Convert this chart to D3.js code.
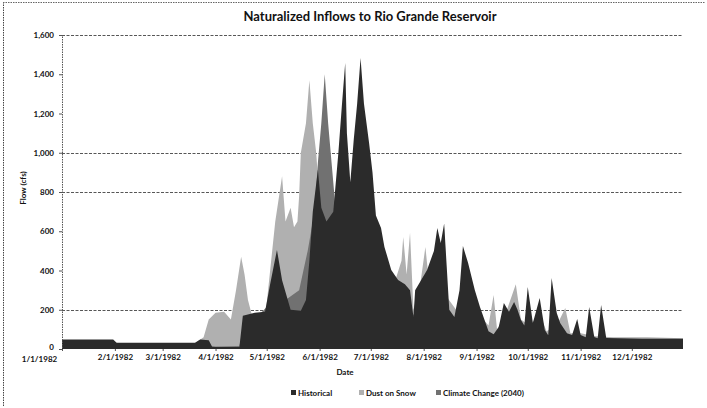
<!DOCTYPE html>
<html>
<head>
<meta charset="utf-8">
<script src="https://cdn.jsdelivr.net/npm/d3@7"></script>
<style>
  html, body { margin: 0; padding: 0; background: #fff; }
  svg { display: block; }
  text { font-family: Lato, "Open Sans", sans-serif; fill: #111; }
</style>
</head>
<body>
<svg id="chart" width="707" height="408"></svg>
<script>
// ---------- DATA ----------
const title = "Naturalized Inflows to Rio Grande Reservoir";
const seriesNames = ["Historical", "Dust on Snow", "Climate Change (2040)"];

const historicalDates = ["1982-01-01","1982-01-31","1982-02-02","1982-03-20","1982-03-23","1982-03-28","1982-03-30","1982-04-15","1982-04-17","1982-04-24","1982-04-30","1982-05-03","1982-05-07","1982-05-10","1982-05-15","1982-05-21","1982-05-24","1982-05-26","1982-05-28","1982-05-31","1982-06-02","1982-06-05","1982-06-09","1982-06-12","1982-06-14","1982-06-16","1982-06-17","1982-06-19","1982-06-21","1982-06-23","1982-06-25","1982-06-27","1982-06-30","1982-07-02","1982-07-04","1982-07-07","1982-07-09","1982-07-13","1982-07-17","1982-07-21","1982-07-24","1982-07-26","1982-07-27","1982-08-03","1982-08-07","1982-08-09","1982-08-11","1982-08-13","1982-08-16","1982-08-19","1982-08-22","1982-08-24","1982-08-27","1982-08-31","1982-09-03","1982-09-08","1982-09-11","1982-09-14","1982-09-17","1982-09-20","1982-09-23","1982-09-25","1982-09-27","1982-09-29","1982-10-01","1982-10-04","1982-10-08","1982-10-11","1982-10-13","1982-10-15","1982-10-18","1982-10-20","1982-10-24","1982-10-27","1982-10-30","1982-11-01","1982-11-04","1982-11-06","1982-11-09","1982-11-11","1982-11-13","1982-11-16","1982-12-07","1982-12-31"];
const historicalValues = [48,48,32,32,48,45,12,10,170,185,190,330,505,350,200,195,250,450,700,913,720,650,700,1000,1235,1457,1100,850,1066,1250,1483,1250,1050,900,680,617,520,403,352,330,300,163,300,403,500,617,540,640,200,163,300,525,439,300,214,90,75,112,235,190,240,200,148,120,316,133,260,97,70,362,184,133,80,71,153,71,60,214,61,55,224,56,52,52];

const dustDates = ["1982-01-01","1982-01-31","1982-02-02","1982-03-20","1982-03-25","1982-03-28","1982-04-01","1982-04-06","1982-04-10","1982-04-13","1982-04-16","1982-04-18","1982-04-20","1982-04-23","1982-04-30","1982-05-03","1982-05-06","1982-05-10","1982-05-12","1982-05-15","1982-05-17","1982-05-19","1982-05-20","1982-05-21","1982-05-24","1982-05-26","1982-05-28","1982-05-30","1982-06-01","1982-06-03","1982-06-08","1982-06-15","1982-06-25","1982-07-02","1982-07-10","1982-07-15","1982-07-19","1982-07-20","1982-07-22","1982-07-24","1982-07-26","1982-07-30","1982-08-02","1982-08-04","1982-08-10","1982-08-13","1982-08-15","1982-08-20","1982-08-25","1982-08-30","1982-09-05","1982-09-08","1982-09-11","1982-09-13","1982-09-18","1982-09-24","1982-09-27","1982-10-02","1982-10-08","1982-10-12","1982-10-18","1982-10-23","1982-10-26","1982-11-01","1982-11-10","1982-11-20","1982-12-10","1982-12-31"];
const dustValues = [45,45,30,30,60,150,185,190,150,300,470,380,250,150,150,400,650,880,650,720,620,650,780,1000,1150,1370,1150,1000,750,700,600,650,700,560,420,340,450,571,380,592,200,330,520,350,450,622,260,200,350,250,150,120,275,100,180,330,150,120,180,90,120,209,80,80,65,60,60,55];

const climateDates = ["1982-01-01","1982-01-31","1982-02-02","1982-03-20","1982-04-01","1982-04-15","1982-04-17","1982-04-25","1982-05-05","1982-05-12","1982-05-20","1982-05-25","1982-05-29","1982-05-31","1982-06-02","1982-06-04","1982-06-06","1982-06-08","1982-06-10","1982-06-14","1982-06-20","1982-06-30","1982-07-10","1982-07-20","1982-08-01","1982-08-15","1982-09-01","1982-09-08","1982-09-15","1982-10-01","1982-10-15","1982-11-01","1982-11-15","1982-12-31"];
const climateValues = [40,40,28,28,10,15,100,160,250,250,300,500,700,950,1150,1400,1150,950,750,650,600,500,350,200,150,130,100,70,65,60,55,55,50,50];

const yTickValues = [0,200,400,600,800,1000,1200,1400,1600];
const gridValues = [200,800,1000,1600];
const xTickDates = ["1982-01-01","1982-02-01","1982-03-01","1982-04-01","1982-05-01","1982-06-01","1982-07-01","1982-08-01","1982-09-01","1982-10-01","1982-11-01","1982-12-01"];
const xTickLabels = ["1/1/1982","2/1/1982","3/1/1982","4/1/1982","5/1/1982","6/1/1982","7/1/1982","8/1/1982","9/1/1982","10/1/1982","11/1/1982","12/1/1982"];

// ---------- CHART ----------
const parse = d3.timeParse("%Y-%m-%d");
const svg = d3.select("#chart");

const plotLeft = 62, plotRight = 683, plotTop = 35, plotBottom = 349;
const x = d3.scaleTime()
  .domain([parse("1982-01-01"), parse("1982-12-31")])
  .range([plotLeft, plotRight]);
const y = d3.scaleLinear().domain([0, 1600]).range([plotBottom, plotTop]);

const colors = { "Historical": "#2b2b2b", "Dust on Snow": "#b0b0b0", "Climate Change (2040)": "#717171" };

// outer dotted border (left + top visible)
svg.append("line").attr("x1", 3.5).attr("x2", 3.5).attr("y1", 2).attr("y2", 406)
  .attr("stroke", "#444").attr("stroke-dasharray", "1.5,1");
svg.append("line").attr("x1", 3).attr("x2", 705).attr("y1", 2.5).attr("y2", 2.5)
  .attr("stroke", "#666").attr("stroke-dasharray", "1.5,1");

// title
svg.append("text").attr("x", 370).attr("y", 21).attr("text-anchor", "middle")
  .style("font-size", "13px").style("font-weight", "bold").text(title);

// gridlines
svg.append("g").selectAll("line").data(gridValues).join("line")
  .attr("x1", plotLeft).attr("x2", plotRight)
  .attr("y1", d => Math.round(y(d)) + 0.5).attr("y2", d => Math.round(y(d)) + 0.5)
  .attr("stroke", "#444").attr("stroke-width", 0.9).attr("stroke-dasharray", "3,1.5");

// areas
const area = d3.area().x(d => x(d.date)).y0(y(0)).y1(d => y(d.value));
function build(dates, values) { return dates.map((s, i) => ({ date: parse(s), value: values[i] })); }
const layers = [
  { name: "Dust on Snow", data: build(dustDates, dustValues) },
  { name: "Climate Change (2040)", data: build(climateDates, climateValues) },
  { name: "Historical", data: build(historicalDates, historicalValues) }
];
svg.append("g").selectAll("path").data(layers).join("path")
  .attr("d", d => area(d.data))
  .attr("fill", d => colors[d.name]);

// y axis
const yAxis = d3.axisLeft(y).tickValues(yTickValues).tickFormat(d3.format(",")).tickSize(3).tickPadding(5);
const gy = svg.append("g").attr("transform", `translate(${plotLeft},0)`).call(yAxis);
gy.select(".domain").attr("stroke", "#555").attr("stroke-dasharray", "1.5,1");
gy.selectAll(".tick line").attr("stroke", "#555");
gy.selectAll("text").style("font-size", "8px").style("font-weight", "bold").attr("fill", "#111");
gy.selectAll(".tick").filter(d => d === 0).select("text").attr("dy", "0.1em");

// x axis
const tickDates = xTickDates.map(parse);
const xAxis = d3.axisBottom(x).tickValues(tickDates)
  .tickFormat((d, i) => xTickLabels[i]).tickSize(2).tickPadding(3);
const gx = svg.append("g").attr("transform", `translate(0,${plotBottom})`).call(xAxis);
gx.select(".domain").remove();
gx.selectAll(".tick line").attr("stroke", "#555");
gx.selectAll("text").style("font-size", "8px").style("font-weight", "bold").attr("fill", "#111");
gx.selectAll(".tick").filter((d, i) => i === 0).select("text").attr("dx", -23).attr("y", 7);

// axis titles
svg.append("text").attr("x", 345).attr("y", 375).attr("text-anchor", "middle")
  .style("font-size", "8px").style("font-weight", "bold").text("Date");
svg.append("text").attr("transform", "translate(26,188) rotate(-90)").attr("text-anchor", "middle")
  .style("font-size", "8px").style("font-weight", "bold").text("Flow (cfs)");

// legend
const legendItems = [
  { name: "Historical", x: 291 },
  { name: "Dust on Snow", x: 359 },
  { name: "Climate Change (2040)", x: 436 }
];
const lg = svg.append("g").selectAll("g").data(legendItems).join("g")
  .attr("transform", d => `translate(${d.x},393)`);
lg.append("rect").attr("x", 0).attr("y", -3).attr("width", 5).attr("height", 5)
  .attr("fill", d => colors[d.name]);
lg.append("text").attr("x", 7).attr("y", 2.5)
  .style("font-size", "8px").style("font-weight", "bold").text(d => d.name);
</script>
</body>
</html>
